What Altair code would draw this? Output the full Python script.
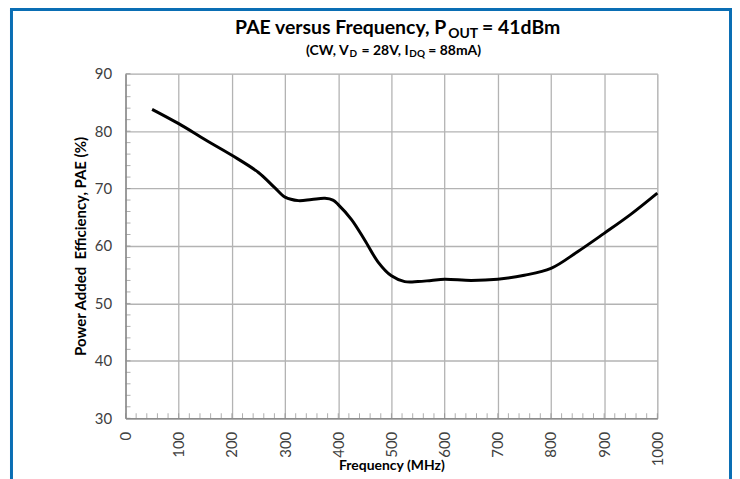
import altair as alt
import pandas as pd

# Data
freq_mhz = [50, 100, 150, 200, 250, 280, 300, 325, 350, 375, 390, 400, 425, 450,
            475, 500, 525, 550, 575, 600, 650, 700, 750, 800, 850, 900, 950, 1000]
pae_pct = [83.8, 81.3, 78.5, 75.8, 72.8, 70.2, 68.5, 67.9, 68.1, 68.3, 68.0, 67.2, 64.6, 61.0,
           57.2, 54.8, 53.8, 53.8, 54.0, 54.2, 54.0, 54.2, 54.9, 56.1, 59.0, 62.2, 65.5, 69.2]

x_major = [0, 100, 200, 300, 400, 500, 600, 700, 800, 900, 1000]
y_major = [30, 40, 50, 60, 70, 80, 90]
x_minor = list(range(0, 1001, 20))
y_minor = list(range(30, 91, 2))

W, H = 534, 346
FONT = "Lato"
GRID = "#b3b3b3"
AXIS = "#8c8c8c"
LABEL = "#404040"
FRAME = "#0a6eb4"

df = pd.DataFrame({"f": freq_mhz, "pae": pae_pct})

xscale = alt.Scale(domain=[0, 1000], nice=False)
yscale = alt.Scale(domain=[30, 90], nice=False)

line = alt.Chart(df).mark_line(color="black", strokeWidth=3, interpolate="catmull-rom").encode(
    x=alt.X("f:Q", scale=xscale,
            axis=alt.Axis(values=x_major, format="d", title="Frequency (MHz)", labelAngle=-90,
                          labelPadding=13, ticks=False, tickSize=0,
                          labelFont=FONT, labelFontSize=15, labelColor=LABEL,
                          titleFont=FONT, titleFontSize=14, titleFontWeight="bold",
                          titleColor="black", titleX=W / 2, titleY=47,
                          titleBaseline="middle", titleAnchor="middle",
                          gridColor=GRID, gridWidth=1.3, domainColor=AXIS, domainWidth=1.5)),
    y=alt.Y("pae:Q", scale=yscale,
            axis=alt.Axis(values=y_major, title="Power Added\u00a0 Efficiency, PAE (%)",
                          labelPadding=14, ticks=False, tickSize=0,
                          labelFont=FONT, labelFontSize=15, labelColor=LABEL,
                          titleFont=FONT, titleFontSize=15, titleFontWeight="bold",
                          titleColor="black", titleX=-45, titleY=H / 2, titleAngle=-90,
                          titleBaseline="middle", titleAlign="center",
                          gridColor=GRID, gridWidth=1.3, domainColor=AXIS, domainWidth=1.5)),
)

xt = alt.Chart(pd.DataFrame({"v": x_minor})).mark_tick(color=AXIS, thickness=1, size=5).encode(
    x=alt.X("v:Q", scale=xscale), y=alt.value(H - 2.5))
yt = alt.Chart(pd.DataFrame({"v": y_minor})).mark_tick(color=AXIS, thickness=1, size=5).encode(
    y=alt.Y("v:Q", scale=yscale), x=alt.value(2.5))

one = pd.DataFrame({"a": [0]})


def txt(text, x, y, size, align="left"):
    return alt.Chart(one).mark_text(text=text, font=FONT, fontSize=size, fontWeight="bold",
                                    color="black", align=align, baseline="alphabetic").encode(
        x=alt.value(x), y=alt.value(y))


titles = [
    txt("PAE versus Frequency, P", 322, -39.5, 19.5, "right"),
    txt("OUT", 324, -36, 14),
    txt("= 41dBm", 358, -39.5, 19.5),
    txt("(CW, V", 224, -19, 14, "right"),
    txt("D", 225, -16.5, 10),
    txt("= 28V, I", 237, -19, 14),
    txt("DQ", 285, -16.5, 10),
    txt("= 88mA)", 304, -19, 14),
]

fl, ft, fr, fb = -114.5, -64.5, 607.5, 430
frame = [
    alt.Chart(one).mark_rule(color=FRAME, strokeWidth=3).encode(
        x=alt.value(fl), y=alt.value(ft), y2=alt.value(fb)),
    alt.Chart(one).mark_rule(color=FRAME, strokeWidth=3).encode(
        x=alt.value(fl - 1.5), x2=alt.value(fr + 1.5), y=alt.value(ft)),
    alt.Chart(one).mark_rule(color=FRAME, strokeWidth=3).encode(
        x=alt.value(fr), y=alt.value(ft), y2=alt.value(fb)),
]

chart = alt.layer(line, xt, yt, *titles, *frame).properties(
    width=W, height=H,
    autosize=alt.AutoSizeParams(type="none"),
    padding={"left": 118, "top": 65, "right": 75, "bottom": 60},
).configure_view(stroke=None).configure(background="white")

chart.save("out.html", embed_options={"renderer": "svg", "actions": False})
